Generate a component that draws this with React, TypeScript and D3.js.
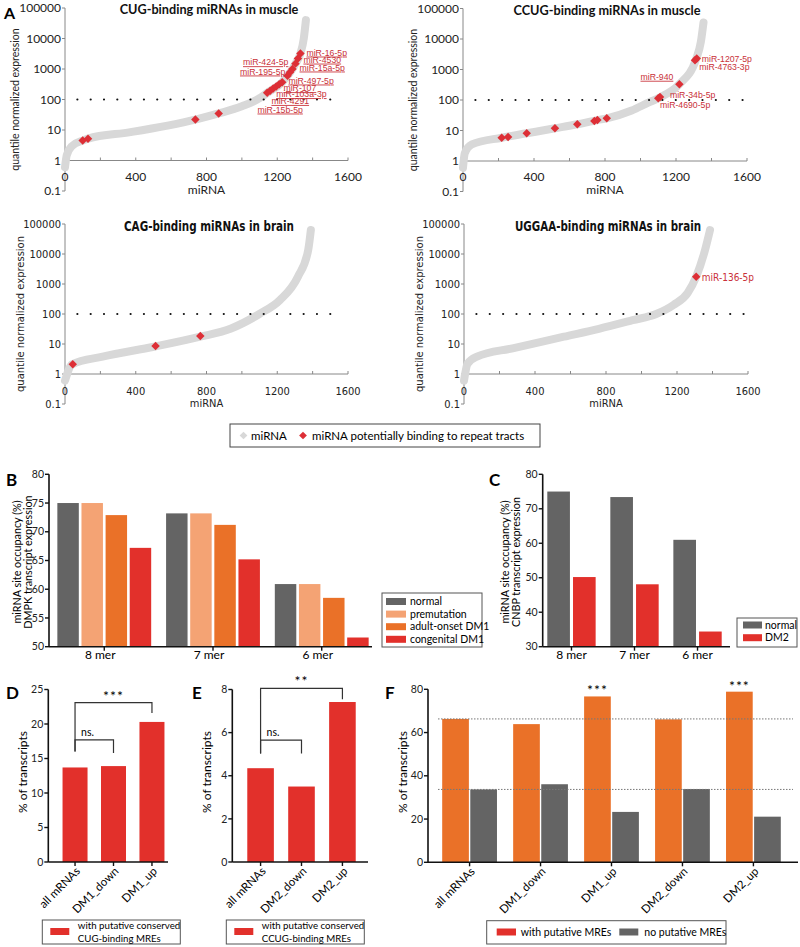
import React from 'react';
import * as d3 from 'd3';

type Pt = [number, number];

// ---------- Panel A: rank of miRNA vs quantile normalized expression
const cugCurve: Pt[] = [[0, 0.6], [10, 1.5], [40, 3], [100, 4.5], [130, 5.2], [370, 8.5], [737, 22], [869, 35], [1000, 60], [1100, 110], [1143, 165], [1228, 370], [1258, 600], [1286, 1000], [1303, 1500], [1331, 3200], [1350, 10000], [1362, 40000]];
const cugHits: Pt[] = [[100, 4.5], [130, 5.2], [737, 22], [869, 35], [1143, 165], [1160, 195], [1177, 230], [1194, 265], [1211, 315], [1228, 370], [1258, 600], [1272, 780], [1286, 1000], [1303, 1500], [1317, 2200], [1331, 3200]];
const cugNames = ['miR-16-5p', 'miR-4530', 'miR-15a-5p', 'miR-424-5p', 'miR-195-5p', 'miR-497-5p', 'miR-107', 'miR-103a-3p', 'miR-4291', 'miR-15b-5p'];
// label anchor in data units: [rank, expression, text-anchor]
const cugNameAt: [number, number, string][] = [[1365, 3470, 'start'], [1348, 2040, 'start'], [1326, 1120, 'start'], [1263, 1670, 'end'], [1246, 830, 'end'], [1263, 420, 'start'], [1235, 235, 'start'], [1195, 150, 'start'], [1167, 90, 'start'], [1088, 47, 'start']];
const cugUnderlined = [true, true, true, true, true, true, true, true, true, true];

const ccugCurve: Pt[] = [[0, 0.6], [10, 1.8], [50, 3.5], [218, 5.8], [359, 8.1], [518, 11.8], [644, 16], [757, 22], [810, 25], [950, 45], [1050, 85], [1100, 114], [1219, 330], [1312, 2100], [1340, 8000], [1355, 35000]];
const ccugHits: Pt[] = [[218, 5.8], [254, 6.1], [359, 8.1], [518, 11.8], [644, 16], [740, 20.5], [757, 22], [810, 25], [1100, 114], [1110, 125], [1219, 330], [1307, 2000], [1317, 2300]];
const ccugNames = ['miR-1207-5p', 'miR-4763-3p', 'miR-940', 'miR-34b-5p', 'miR-4690-5p'];
const ccugNameAt: [number, number, string][] = [[1345, 2240, 'start'], [1331, 1200, 'start'], [1185, 580, 'end'], [1166, 145, 'start'], [1110, 70, 'start']];
const ccugUnderlined = [false, false, true, false, false];

const cagCurve: Pt[] = [[0, 0.6], [40, 2.1], [213, 3.8], [503, 8.1], [765, 17.5], [939, 33], [1099, 100], [1215, 290], [1317, 1750], [1375, 13600], [1390, 63000]];
const cagHits: Pt[] = [[44, 2.1], [512, 8.5], [765, 18.5]];

const uggaaCurve: Pt[] = [[0, 0.6], [20, 2.2], [73, 3.8], [274, 7.2], [563, 17.5], [760, 32], [950, 62], [1083, 100], [1180, 200], [1260, 500], [1308, 1750], [1358, 13600], [1386, 63000]];
const uggaaHits: Pt[] = [[1308, 1750]];
const uggaaNames = ['miR-136-5p'];
const uggaaNameAt: [number, number, string][] = [[1340, 1700, 'start']];

const rankTicks = [0, 200, 400, 600, 800, 1000, 1200, 1400, 1600];
const rankLabels = [0, 400, 800, 1200, 1600];
const exprTicks = [0.1, 1, 10, 100, 1000, 10000, 100000];

// ---------- Panel B / C: miRNA site occupancy
const merGroups = ['8 mer', '7 mer', '6 mer'];
const dm1Series = ['normal', 'premutation', 'adult-onset DM1', 'congenital DM1'];
const dmpkNormal = [75, 73.2, 60.9];
const dmpkPremutation = [75, 73.2, 60.9];
const dmpkAdultDM1 = [72.9, 71.2, 58.5];
const dmpkCongenitalDM1 = [67.2, 65.2, 51.6];
const dmpkTicks = [50, 55, 60, 65, 70, 75, 80];

const dm2Series = ['normal', 'DM2'];
const cnbpNormal = [75, 73.4, 61];
const cnbpDM2 = [50.2, 48.1, 34.4];
const cnbpTicks = [30, 40, 50, 60, 70, 80];

// ---------- Panel D / E / F: % of transcripts
const dm1Sets = ['all mRNAs', 'DM1_down', 'DM1_up'];
const cugMrePct = [13.7, 13.9, 20.3];
const dTicks = [0, 5, 10, 15, 20, 25];
// [from, to, label, bracket level, left leg end, right leg end]
const dBrackets: [number, number, string, number, number, number][] = [[0, 1, 'ns.', 17.7, 16, 15.8], [0, 2, '***', 23.1, 16, 21.6]];

const dm2Sets = ['all mRNAs', 'DM2_down', 'DM2_up'];
const ccugMrePct = [4.35, 3.5, 7.42];
const eTicks = [0, 2, 4, 6, 8];
const eBrackets: [number, number, string, number, number, number][] = [[0, 1, 'ns.', 5.65, 5.03, 5.03], [0, 2, '**', 8.05, 5.03, 7.55]];

const allSets = ['all mRNAs', 'DM1_down', 'DM1_up', 'DM2_down', 'DM2_up'];
const withMREs = [66.3, 63.9, 76.7, 66.1, 78.9];
const noMREs = [33.7, 36.1, 23.3, 33.9, 21.1];
const fStars = ['', '', '***', '', '***'];
const fTicks = [0, 20, 40, 60, 80];

const RED = '#e2302b';
const DARK = '#646464';
const ORANGE = '#ea7128';
const PEACH = '#f4a374';
const HIT = '#dd2f36';
const LABEL_RED = '#c93139';
const GREY = '#d8d8d8';
const SANS = "Lato, 'Open Sans', sans-serif";
const NARROW = "'Liberation Sans Narrow', 'DejaVu Sans Condensed', 'Liberation Sans', sans-serif";
const ARIAL = "'Liberation Sans', Arial, sans-serif";

interface LogPanelProps {
  left: number; top: number; decade: number; width: number; title: string; titleLen?: number;
  curve: Pt[]; hits: Pt[]; names?: string[]; nameAt?: [number, number, string][];
  underline?: boolean[]; narrow?: boolean;
}

function LogPanel(p: LogPanelProps) {
  const x = d3.scaleLinear().domain([0, 1600]).range([p.left, p.left + p.width]);
  const y = d3.scaleLog().domain([0.1, 100000]).range([p.top + 6 * p.decade, p.top]);
  const line = d3.line<Pt>().x(d => x(d[0])).y(d => y(d[1])).curve(d3.curveMonotoneX);
  const diamond = d3.symbol(d3.symbolSquare, 36)() as string;
  const font = p.narrow ? NARROW : SANS;
  const y1 = y(1);
  const dotStart = x(70), dotEnd = x(1575);
  const gap = (dotEnd - dotStart) / 20;
  const narrowText = (len: number) => (p.narrow ? { textLength: len, lengthAdjust: 'spacingAndGlyphs' } : {});
  return (
    <g>
      <text x={p.left + 144} y={p.top + 2} dy="0.35em" textAnchor="middle" fontFamily={font}
        fontWeight="bold" fontSize={p.narrow ? 14 : 12.7} fill="#111"
        {...(p.titleLen ? { textLength: p.titleLen, lengthAdjust: 'spacingAndGlyphs' } : {})}>{p.title}</text>
      <text transform={`translate(${p.left - (p.narrow ? 45 : 50)},${(y(0.1) + y(100000)) / 2}) rotate(-90)`}
        dy="0.35em" textAnchor="middle" fontFamily={font} fontSize={p.narrow ? 11 : 10.5}
        {...narrowText(156)} fill="#222">quantile normalized expression</text>
      <line x1={p.left} x2={p.left} y1={y(0.1)} y2={y(100000)} stroke="#888" />
      {exprTicks.map(t => (
        <g key={t}>
          <line x1={p.left - 3} x2={p.left} y1={y(t)} y2={y(t)} stroke="#888" />
          <text x={p.left - 4} y={y(t)} dy="0.35em" textAnchor="end" fontFamily={font}
            fontSize={p.narrow ? 11 : 12} fill="#222">{t}</text>
        </g>
      ))}
      <line x1={p.left} x2={x(1600)} y1={y1} y2={y1} stroke="#888" />
      {rankTicks.map(t => (
        <line key={t} x1={x(t)} x2={x(t)} y1={y1} y2={y1 - 3} stroke="#888" />
      ))}
      {rankLabels.map(t => (
        <text key={t} x={x(t)} y={y1 + (p.narrow ? 17 : 16)} dy="0.35em" textAnchor="middle"
          fontFamily={font} fontSize={p.narrow ? 11 : 12} fill="#222">{t}</text>
      ))}
      <text x={x(800)} y={y1 + 29} dy="0.35em" textAnchor="middle" fontFamily={font}
        fontSize={p.narrow ? 11 : 12} fill="#222">miRNA</text>
      <path d={line(p.curve) as string} fill="none" stroke={GREY} strokeWidth={8} strokeLinecap="round" />
      <line x1={dotStart} x2={dotEnd} y1={y(100)} y2={y(100)} stroke="#111" strokeWidth={2.2}
        strokeLinecap="round" strokeDasharray={`0 ${gap}`} />
      {p.hits.map((d, i) => (
        <path key={i} d={diamond} transform={`translate(${x(d[0])},${y(d[1])}) rotate(45)`} fill={HIT} />
      ))}
      {(p.names || []).map((n, i) => {
        const at = p.nameAt![i];
        return (
          <text key={n} x={x(at[0])} y={y(at[1])} dy="0.35em" textAnchor={at[2]}
            fontFamily={p.narrow ? NARROW : ARIAL} fontSize={p.narrow ? 10 : 8.7} fill={LABEL_RED}
            textDecoration={p.underline && p.underline[i] ? 'underline' : 'none'}>{n}</text>
        );
      })}
    </g>
  );
}

function YAxis({ x, scale, ticks }: { x: number; scale: d3.ScaleLinear<number, number>; ticks: number[] }) {
  const [lo, hi] = scale.domain();
  return (
    <g>
      <line x1={x} x2={x} y1={scale(lo)} y2={scale(hi)} stroke="#111" strokeWidth={1.6} />
      {ticks.map(t => (
        <g key={t}>
          <line x1={x - 4} x2={x} y1={scale(t)} y2={scale(t)} stroke="#111" strokeWidth={1.4} />
          <text x={x - 5} y={scale(t)} dy="0.35em" textAnchor="end" fontFamily={SANS} fontSize={10.5} fill="#222">{t}</text>
        </g>
      ))}
    </g>
  );
}

function PanelB() {
  const y = d3.scaleLinear().domain([50, 80]).range([646.7, 474.3]);
  const x0 = d3.scaleBand().domain(merGroups).range([53, 373]).paddingInner(0.137).paddingOuter(0.04);
  const x1 = d3.scaleBand().domain(dm1Series).range([0, x0.bandwidth()]).paddingInner(0.11);
  const series = [dmpkNormal, dmpkPremutation, dmpkAdultDM1, dmpkCongenitalDM1];
  const colors = [DARK, PEACH, ORANGE, RED];
  return (
    <g>
      <text x={6} y={480} dy="0.35em" fontFamily={SANS} fontWeight="bold" fontSize={17}>B</text>
      <text transform="translate(17,562) rotate(-90)" dy="0.35em" textAnchor="middle" fontFamily={SANS} fontSize={10.8}>miRNA site occupancy (%)</text>
      <text transform="translate(28.5,562) rotate(-90)" dy="0.35em" textAnchor="middle" fontFamily={SANS} fontSize={10.8}>DMPK transcript expression</text>
      {merGroups.map((g, gi) => dm1Series.map((s, si) => (
        <rect key={g + s} x={x0(g)! + x1(s)!} width={x1.bandwidth()} y={y(series[si][gi])}
          height={y(50) - y(series[si][gi])} fill={colors[si]} />
      )))}
      <YAxis x={49} scale={y} ticks={dmpkTicks} />
      <line x1={49} x2={372} y1={y(50)} y2={y(50)} stroke="#111" strokeWidth={1.6} />
      {merGroups.map(g => {
        const cx = x0(g)! + x0.bandwidth() / 2;
        return (
          <g key={g}>
            <line x1={cx} x2={cx} y1={y(50)} y2={y(50) + 4} stroke="#111" strokeWidth={1.4} />
            <text x={cx - 4} y={655} dy="0.35em" textAnchor="middle" fontFamily={SANS} fontSize={12}>{g}</text>
          </g>
        );
      })}
      <rect x={382} y={593} width={100} height={54} fill="white" stroke="#555" />
      {dm1Series.map((s, i) => (
        <g key={s}>
          <rect x={386} y={598 + i * 12.6} width={20} height={7} fill={colors[i]} />
          <text x={410} y={601.5 + i * 12.6} dy="0.35em" fontFamily={SANS} fontSize={10.5}>{s}</text>
        </g>
      ))}
    </g>
  );
}

function PanelC() {
  const y = d3.scaleLinear().domain([30, 80]).range([646.7, 474.3]);
  const x0 = d3.scaleBand().domain(merGroups).range([541, 728]).paddingInner(0.233).paddingOuter(0.1);
  const x1 = d3.scaleBand().domain(dm2Series).range([0, x0.bandwidth()]).paddingInner(0.12);
  const series = [cnbpNormal, cnbpDM2];
  const colors = [DARK, RED];
  return (
    <g>
      <text x={489} y={480} dy="0.35em" fontFamily={SANS} fontWeight="bold" fontSize={17}>C</text>
      <text transform="translate(505,562) rotate(-90)" dy="0.35em" textAnchor="middle" fontFamily={SANS} fontSize={10.8}>miRNA site occupancy (%)</text>
      <text transform="translate(516.5,562) rotate(-90)" dy="0.35em" textAnchor="middle" fontFamily={SANS} fontSize={10.8}>CNBP transcript expression</text>
      {merGroups.map((g, gi) => dm2Series.map((s, si) => (
        <rect key={g + s} x={x0(g)! + x1(s)!} width={x1.bandwidth()} y={y(series[si][gi])}
          height={y(30) - y(series[si][gi])} fill={colors[si]} />
      )))}
      <YAxis x={542.7} scale={y} ticks={cnbpTicks} />
      <line x1={542.7} x2={730} y1={y(30)} y2={y(30)} stroke="#111" strokeWidth={1.6} />
      {merGroups.map(g => {
        const cx = x0(g)! + x0.bandwidth() / 2;
        return (
          <g key={g}>
            <line x1={cx} x2={cx} y1={y(30)} y2={y(30) + 4} stroke="#111" strokeWidth={1.4} />
            <text x={cx} y={655} dy="0.35em" textAnchor="middle" fontFamily={SANS} fontSize={12}>{g}</text>
          </g>
        );
      })}
      <rect x={737} y={618} width={60} height={29} fill="white" stroke="#555" />
      {dm2Series.map((s, i) => (
        <g key={s}>
          <rect x={743} y={621.5 + i * 12.7} width={19} height={7} fill={colors[i]} />
          <text x={765} y={625 + i * 12.7} dy="0.35em" fontFamily={SANS} fontSize={10.5}>{s}</text>
        </g>
      ))}
    </g>
  );
}

interface PctProps {
  letter: string; letterX: number; axisX: number; axisEnd: number; band: [number, number];
  sets: string[]; values: number[]; max: number; ticks: number[];
  brackets: [number, number, string, number, number, number][]; legend: string[];
}

function PctPanel(p: PctProps) {
  const y = d3.scaleLinear().domain([0, p.max]).range([862, 689.5]);
  const x = d3.scaleBand().domain(p.sets).range(p.band).paddingInner(0.35).paddingOuter(0.3);
  const cx = (i: number) => x(p.sets[i])! + x.bandwidth() / 2;
  return (
    <g>
      <text x={p.letterX} y={693} dy="0.35em" fontFamily={SANS} fontWeight="bold" fontSize={17}>{p.letter}</text>
      <text transform={`translate(${p.axisX - 26},772) rotate(-90)`} dy="0.35em" textAnchor="middle" fontFamily={SANS} fontSize={12}>% of transcripts</text>
      {p.sets.map((s, i) => (
        <rect key={s} x={x(s)} width={x.bandwidth()} y={y(p.values[i])} height={y(0) - y(p.values[i])} fill={RED} />
      ))}
      <YAxis x={p.axisX} scale={y} ticks={p.ticks} />
      <line x1={p.axisX} x2={p.axisEnd} y1={y(0)} y2={y(0)} stroke="#111" strokeWidth={1.6} />
      {p.sets.map((s, i) => (
        <g key={s}>
          <line x1={cx(i)} x2={cx(i)} y1={y(0)} y2={y(0) + 4} stroke="#111" strokeWidth={1.4} />
          <text transform={`translate(${cx(i) + 3},${y(0) + 7}) rotate(-45)`} dy="0.35em" textAnchor="end"
            fontFamily={SANS} fontSize={11.5}>{s}</text>
        </g>
      ))}
      {p.brackets.map(([a, b, label, level, le, re]) => (
        <g key={label}>
          <path d={`M${cx(a)},${y(le)}V${y(level)}H${cx(b)}V${y(re)}`} fill="none" stroke="#333" strokeWidth={1.2} />
          <text x={label === 'ns.' ? cx(a) + 6 : (cx(a) + cx(b)) / 2} y={y(level) - (label === 'ns.' ? 4 : 2)}
            textAnchor={label === 'ns.' ? 'start' : 'middle'} fontFamily={SANS}
            fontSize={label === 'ns.' ? 10.5 : 14} letterSpacing={label === 'ns.' ? 0 : 1}>{label}</text>
        </g>
      ))}
      <rect x={p.axisX - 6} y={920} width={138} height={24} fill="white" stroke="#555" />
      <rect x={p.axisX + 2} y={928} width={19} height={7} fill={RED} />
      {p.legend.map((t, i) => (
        <text key={t} x={p.axisX + 29.5} y={926 + i * 13} dy="0.35em" fontFamily={SANS} fontSize={9.7}>{t}</text>
      ))}
    </g>
  );
}

function PanelF() {
  const y = d3.scaleLinear().domain([0, 80]).range([862.3, 689.3]);
  const x0 = d3.scaleBand().domain(allSets).range([428, 795]).paddingInner(0.228).paddingOuter(0.2);
  const x1 = d3.scaleBand().domain(['with', 'no']).range([0, x0.bandwidth()]).paddingInner(0.05);
  const cx = (s: string) => x0(s)! + x0.bandwidth() / 2;
  return (
    <g>
      <text x={385} y={693} dy="0.35em" fontFamily={SANS} fontWeight="bold" fontSize={17}>F</text>
      <text transform="translate(403,772) rotate(-90)" dy="0.35em" textAnchor="middle" fontFamily={SANS} fontSize={12}>% of transcripts</text>
      {allSets.map((s, i) => (
        <g key={s}>
          <rect x={x0(s)! + x1('with')!} width={x1.bandwidth()} y={y(withMREs[i])} height={y(0) - y(withMREs[i])} fill={ORANGE} />
          <rect x={x0(s)! + x1('no')!} width={x1.bandwidth()} y={y(noMREs[i])} height={y(0) - y(noMREs[i])} fill={DARK} />
          {fStars[i] && (
            <text x={x0(s)! + x1('with')! + x1.bandwidth() / 2} y={y(withMREs[i]) - 1} textAnchor="middle"
              fontFamily={SANS} fontSize={14} letterSpacing={1}>{fStars[i]}</text>
          )}
        </g>
      ))}
      {[withMREs[0], noMREs[0]].map(v => (
        <line key={v} x1={438} x2={793} y1={y(v)} y2={y(v)} stroke="#777" strokeWidth={1} strokeDasharray="1.5 1.5" />
      ))}
      <YAxis x={428} scale={y} ticks={fTicks} />
      <line x1={428} x2={798} y1={y(0)} y2={y(0)} stroke="#111" strokeWidth={1.6} />
      {allSets.map(s => (
        <g key={s}>
          <line x1={cx(s)} x2={cx(s)} y1={y(0)} y2={y(0) + 4} stroke="#111" strokeWidth={1.4} />
          <text transform={`translate(${cx(s) + 3},${y(0) + 7}) rotate(-45)`} dy="0.35em" textAnchor="end"
            fontFamily={SANS} fontSize={11.5}>{s}</text>
        </g>
      ))}
      <rect x={486.7} y={920.7} width={239.3} height={23.3} fill="white" stroke="#555" />
      <rect x={496.7} y={928.5} width={19.3} height={7} fill={RED} />
      <text x={520.7} y={932} dy="0.35em" fontFamily={SANS} fontSize={10.5}>with putative MREs</text>
      <rect x={619.3} y={928.5} width={19} height={7} fill={DARK} />
      <text x={644.3} y={932} dy="0.35em" fontFamily={SANS} fontSize={10.5}>no putative MREs</text>
    </g>
  );
}

export default function App() {
  const legendDiamond = d3.symbol(d3.symbolSquare, 30)() as string;
  return (
    <svg width={800} height={947} style={{ position: 'absolute', left: 0, top: 0, background: 'white' }}>
      <text x={4} y={13} dy="0.35em" fontFamily={SANS} fontWeight="bold" fontSize={16}>A</text>
      <LogPanel left={65} top={8} decade={30.5} width={283} title="CUG-binding miRNAs in muscle"
        curve={cugCurve} hits={cugHits} names={cugNames} nameAt={cugNameAt} underline={cugUnderlined} />
      <LogPanel left={463} top={8.5} decade={30.5} width={284} title="CCUG-binding miRNAs in muscle"
        curve={ccugCurve} hits={ccugHits} names={ccugNames} nameAt={ccugNameAt} underline={ccugUnderlined} />
      <LogPanel left={65} top={224} decade={30} width={283} title="CAG-binding miRNAs in brain" titleLen={170}
        curve={cagCurve} hits={cagHits} narrow />
      <LogPanel left={464} top={224} decade={30} width={284} title="UGGAA-binding miRNAs in brain" titleLen={186}
        curve={uggaaCurve} hits={uggaaHits} names={uggaaNames} nameAt={uggaaNameAt} narrow />
      <rect x={230} y={424} width={310} height={23} fill="white" stroke="#444" />
      <path d={legendDiamond} transform="translate(243.5,435.5) rotate(45)" fill={GREY} />
      <text x={251} y={435.5} dy="0.35em" fontFamily={SANS} fontSize={11.5}>miRNA</text>
      <path d={legendDiamond} transform="translate(303,435.5) rotate(45)" fill={HIT} />
      <text x={312} y={435.5} dy="0.35em" fontFamily={SANS} fontSize={11.5}>miRNA potentially binding to repeat tracts</text>
      <PanelB />
      <PanelC />
      <PctPanel letter="D" letterX={6} axisX={48.3} axisEnd={168} band={[51, 176]} sets={dm1Sets}
        values={cugMrePct} max={25} ticks={dTicks} brackets={dBrackets}
        legend={['with putative conserved', 'CUG-binding MREs']} />
      <PctPanel letter="E" letterX={192} axisX={232.3} axisEnd={368} band={[235, 368]} sets={dm2Sets}
        values={ccugMrePct} max={8} ticks={eTicks} brackets={eBrackets}
        legend={['with putative conserved', 'CCUG-binding MREs']} />
      <PanelF />
    </svg>
  );
}
